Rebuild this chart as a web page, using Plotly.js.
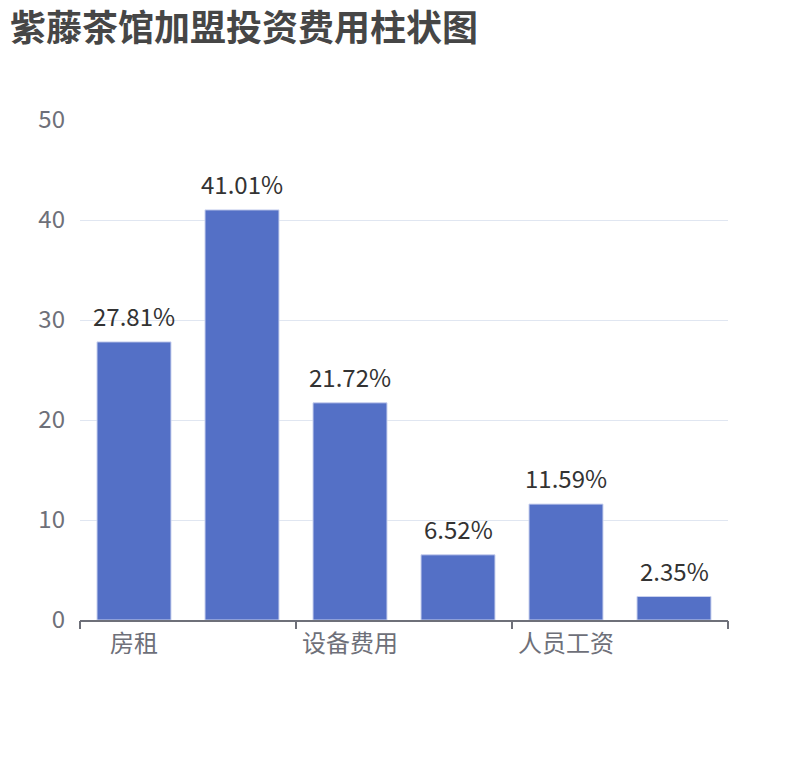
<!DOCTYPE html>
<html>
<head>
<meta charset="utf-8">
<script src="https://cdn.plot.ly/plotly-3.0.1.min.js"></script>
<style>
  body { margin: 0; background: #fff; }
  #chart { width: 810px; height: 760px; }
</style>
</head>
<body>
<div id="chart"></div>
<script>
// 紫藤茶馆加盟投资费用 (%)
var categories = ["房租", "装修费用", "设备费用", "首批进货", "人员工资", "其他费用"];
var shares = [27.81, 41.01, 21.72, 6.52, 11.59, 2.35];
var yTicks = [0, 10, 20, 30, 40, 50];

var font = "'Microsoft YaHei', 'Noto Sans CJK SC', sans-serif";
var axisGrey = "#6E7079";

// only every other category name is shown, like the original
var shownIdx = [];
for (var i = 0; i < categories.length; i += 2) shownIdx.push(i);
var shownLabels = shownIdx.map(function (i) { return categories[i]; });

var bars = {
    x: categories,
    y: shares,
    type: 'bar',
    marker: { color: '#5470c6', line: { color: '#c9d1ee', width: 1 } },
    hoverinfo: 'x+y'
};

// value labels sit a bit higher than plotly's own outside text
var valueLabels = categories.map(function (c, k) {
    return {
        x: c,
        y: shares[k],
        text: shares[k].toFixed(2) + '%',
        showarrow: false,
        yanchor: 'bottom',
        yshift: 7,
        font: { family: font, size: 24, color: '#333' }
    };
});

// invisible trace on a linear overlay axis, only used to put the tick marks on the boundaries
var tickBounds = [];
for (var j = 0; j <= categories.length; j += 2) tickBounds.push(j - 0.5);
var marks = {
    x: [-0.5, categories.length - 0.5],
    y: [0, 0],
    xaxis: 'x2',
    mode: 'none',
    type: 'scatter',
    hoverinfo: 'skip',
    showlegend: false
};

var layout = {
    width: 810,
    height: 760,
    margin: { l: 80, r: 82, t: 120, b: 140 },
    paper_bgcolor: '#fff',
    plot_bgcolor: '#fff',
    showlegend: false,
    bargap: 0.315,
    annotations: valueLabels,
    title: {
        text: '紫藤茶馆加盟投资费用柱状图',
        font: { family: font, size: 36, color: '#464646', weight: 'bold' },
        xref: 'container',
        yref: 'container',
        x: 10 / 810,
        xanchor: 'left',
        y: 1 - 28 / 760,
        yanchor: 'middle'
    },
    xaxis: {
        type: 'category',
        tickmode: 'array',
        tickvals: shownIdx,
        ticktext: shownLabels,
        ticks: '',
        ticklabelstandoff: 2,
        tickfont: { family: font, size: 24, color: axisGrey },
        showline: true,
        linecolor: axisGrey,
        linewidth: 1.5,
        showgrid: false,
        zeroline: false,
        range: [-0.5, categories.length - 0.5],
        fixedrange: true
    },
    xaxis2: {
        overlaying: 'x',
        side: 'bottom',
        range: [-0.5, categories.length - 0.5],
        tickmode: 'array',
        tickvals: tickBounds,
        showticklabels: false,
        ticks: 'outside',
        ticklen: 8,
        tickwidth: 1.5,
        tickcolor: axisGrey,
        showgrid: false,
        zeroline: false,
        showline: false,
        fixedrange: true
    },
    yaxis: {
        range: [0, 50],
        tickmode: 'array',
        tickvals: yTicks,
        ticks: '',
        ticklabelstandoff: 14,
        tickfont: { family: font, size: 24, color: axisGrey },
        gridcolor: '#E0E6F1',
        gridwidth: 1,
        zeroline: false,
        showline: false,
        fixedrange: true
    }
};

Plotly.newPlot('chart', [bars, marks], layout, { displayModeBar: false, staticPlot: true });
</script>
</body>
</html>
